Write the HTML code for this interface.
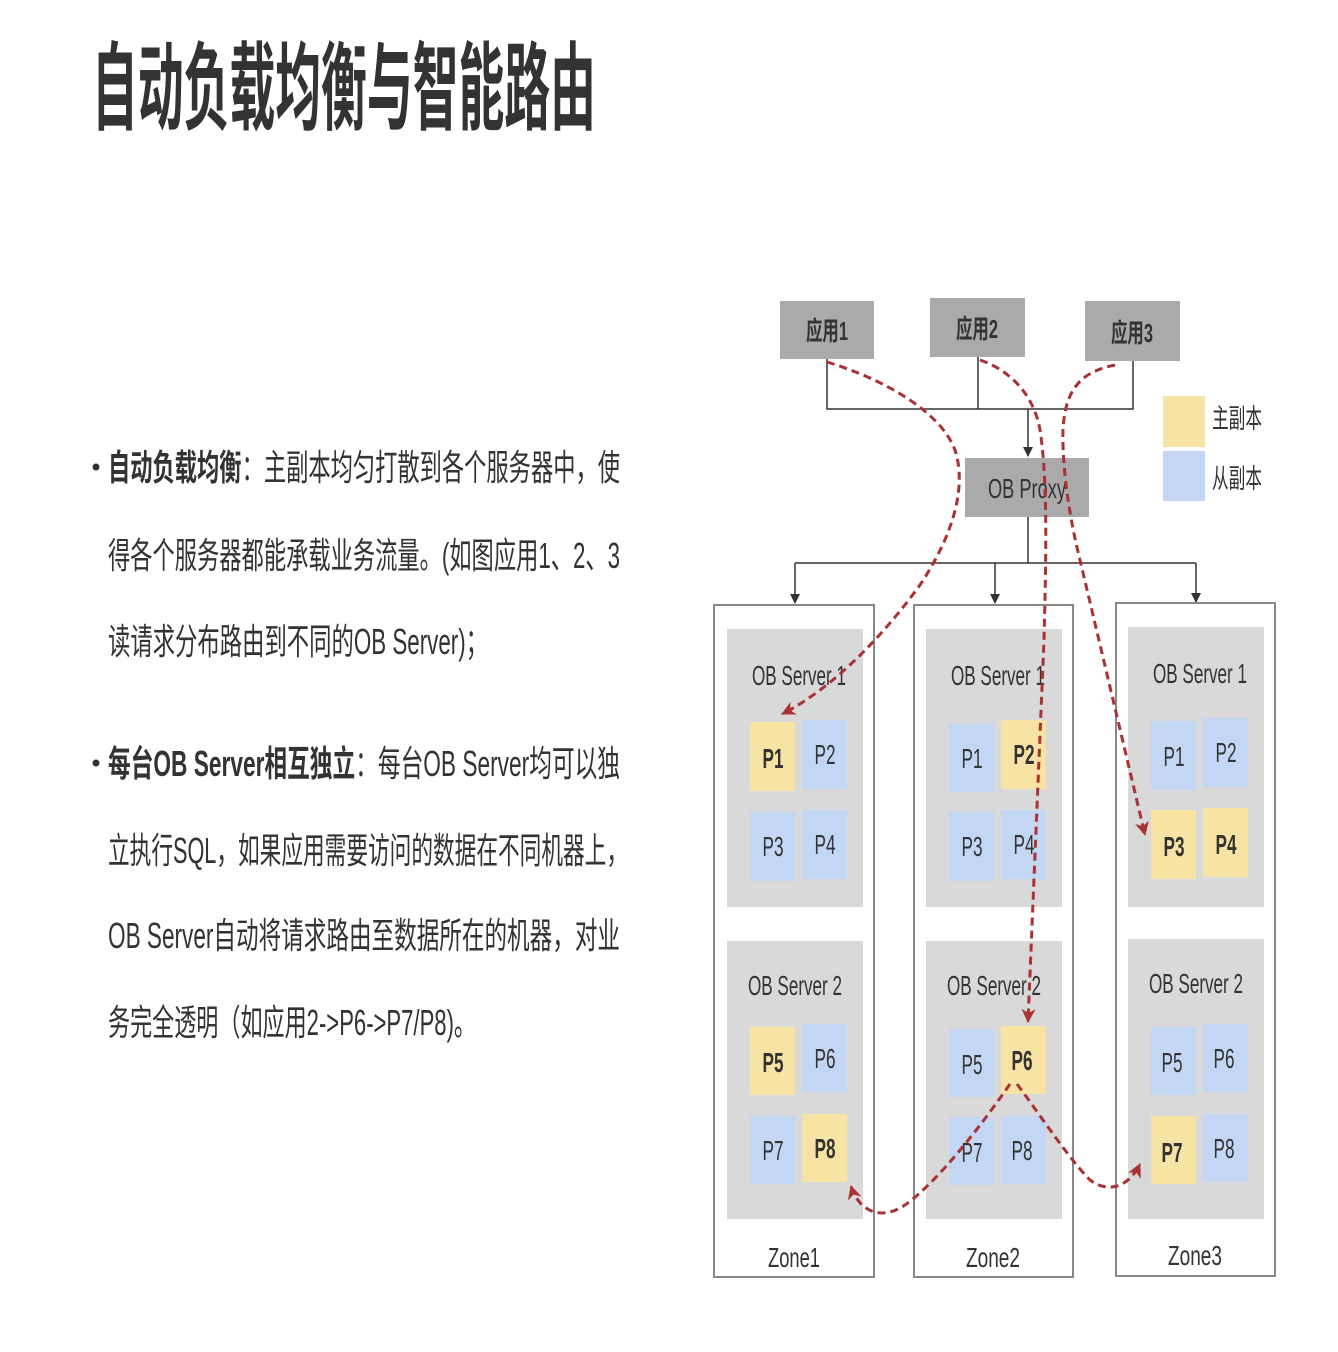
<!DOCTYPE html>
<html><head><meta charset="utf-8">
<style>
html,body{margin:0;padding:0;background:#fff;}
svg{display:block;}
text{font-family:"Liberation Sans","Noto Sans CJK SC",sans-serif;fill:#333;}
</style></head>
<body>
<svg width="1338" height="1352" viewBox="0 0 1338 1352" xmlns="http://www.w3.org/2000/svg">
<defs>
<marker id="ab" markerWidth="10" markerHeight="10" refX="9" refY="5" orient="auto" markerUnits="userSpaceOnUse">
<path d="M0,0 L10,5 L0,10 Z" fill="#333"/></marker>
<marker id="ar" markerWidth="16" markerHeight="16" refX="13" refY="8" orient="auto" markerUnits="userSpaceOnUse">
<path d="M0,1 L14,8 L0,15 L4,8 Z" fill="#a93232"/></marker>
</defs>

<text x="92" y="122" font-size="96" font-weight="bold" fill="#2e2a2a" textLength="504" lengthAdjust="spacingAndGlyphs" style="font-family:'Noto Sans CJK SC',sans-serif">自动负载均衡与智能路由</text>

<g font-size="36" style="font-family:'Noto Sans CJK SC',sans-serif">
<circle cx="96" cy="467" r="3.5" fill="#333"/>
<text x="108" y="480" textLength="512" lengthAdjust="spacingAndGlyphs"><tspan font-weight="bold">自动负载均衡</tspan>：主副本均匀打散到各个服务器中，使</text>
<text x="108" y="568" textLength="512" lengthAdjust="spacingAndGlyphs">得各个服务器都能承载业务流量。(如图应用1、2、3</text>
<text x="108" y="654" textLength="380" lengthAdjust="spacingAndGlyphs">读请求分布路由到不同的OB Server)；</text>
<circle cx="96" cy="763" r="3.5" fill="#333"/>
<text x="108" y="776" textLength="512" lengthAdjust="spacingAndGlyphs"><tspan font-weight="bold">每台OB  Server相互独立</tspan>：每台OB  Server均可以独</text>
<text x="108" y="863" textLength="520" lengthAdjust="spacingAndGlyphs">立执行SQL，如果应用需要访问的数据在不同机器上，</text>
<text x="108" y="948" textLength="512" lengthAdjust="spacingAndGlyphs">OB  Server自动将请求路由至数据所在的机器，对业</text>
<text x="108" y="1035" textLength="368" lengthAdjust="spacingAndGlyphs">务完全透明（如应用2-&gt;P6-&gt;P7/P8)。</text>
</g>

<g fill="#aba9a9">
<rect x="780" y="301" width="94" height="58"/>
<rect x="930" y="298" width="95" height="59"/>
<rect x="1085" y="301" width="95" height="60"/>
<rect x="965" y="458" width="124" height="59"/>
</g>
<g font-size="26" font-weight="bold" text-anchor="middle">
<text x="827" y="340" textLength="42" lengthAdjust="spacingAndGlyphs">应用1</text>
<text x="977" y="338" textLength="42" lengthAdjust="spacingAndGlyphs">应用2</text>
<text x="1132" y="342" textLength="42" lengthAdjust="spacingAndGlyphs">应用3</text>
</g>
<text x="1027" y="498" font-size="28" fill="#2a2a2a" text-anchor="middle" textLength="78" lengthAdjust="spacingAndGlyphs">OB Proxy</text>

<g stroke="#333" stroke-width="1.5" fill="none">
<path d="M827,359 V409 H1133 V361 M978,357 V409"/>
<path d="M1028,409 V456" marker-end="url(#ab)"/>
<path d="M1028,517 V563 M795,563 H1196"/>
<path d="M795,563 V603" marker-end="url(#ab)"/>
<path d="M995,563 V603" marker-end="url(#ab)"/>
<path d="M1196,563 V602" marker-end="url(#ab)"/>
</g>

<rect x="1163" y="396" width="42" height="51" fill="#f7e3a3"/>
<rect x="1163" y="451" width="42" height="50" fill="#c3d6f3"/>
<text x="1212" y="428" font-size="27" fill="#2a2a2a" textLength="50" lengthAdjust="spacingAndGlyphs">主副本</text>
<text x="1212" y="488" font-size="27" fill="#2a2a2a" textLength="50" lengthAdjust="spacingAndGlyphs">从副本</text>

<g fill="#fff" stroke="#888" stroke-width="2">
<rect x="714" y="605" width="160" height="672"/>
<rect x="914" y="605" width="159" height="672"/>
<rect x="1116" y="603" width="159" height="673"/>
</g>
<g fill="#d9d9d9">
<rect x="727" y="629" width="136" height="278"/>
<rect x="727" y="941" width="136" height="278"/>
<rect x="926" y="629" width="136" height="278"/>
<rect x="926" y="941" width="136" height="278"/>
<rect x="1128" y="627" width="136" height="280"/>
<rect x="1128" y="939" width="136" height="280"/>
</g>
<g font-size="28" text-anchor="middle">
<text x="799" y="685" textLength="94" lengthAdjust="spacingAndGlyphs">OB Server 1</text>
<text x="795" y="995" textLength="94" lengthAdjust="spacingAndGlyphs">OB Server 2</text>
<text x="998" y="685" textLength="94" lengthAdjust="spacingAndGlyphs">OB Server 1</text>
<text x="994" y="995" textLength="94" lengthAdjust="spacingAndGlyphs">OB Server 2</text>
<text x="1200" y="683" textLength="94" lengthAdjust="spacingAndGlyphs">OB Server 1</text>
<text x="1196" y="993" textLength="94" lengthAdjust="spacingAndGlyphs">OB Server 2</text>
<text x="794" y="1267" textLength="52" lengthAdjust="spacingAndGlyphs">Zone1</text>
<text x="993" y="1267" textLength="54" lengthAdjust="spacingAndGlyphs">Zone2</text>
<text x="1195" y="1265" textLength="54" lengthAdjust="spacingAndGlyphs">Zone3</text>
</g>

<g>
<rect x="750" y="722" width="45" height="69" fill="#f7e3a3"/><rect x="802" y="720" width="45" height="69" fill="#c3d6f3"/>
<rect x="750" y="812" width="45" height="69" fill="#c3d6f3"/><rect x="802" y="810" width="45" height="69" fill="#c3d6f3"/>
<rect x="750" y="1027" width="45" height="68" fill="#f7e3a3"/><rect x="802" y="1024" width="45" height="68" fill="#c3d6f3"/>
<rect x="750" y="1116" width="45" height="68" fill="#c3d6f3"/><rect x="802" y="1114" width="45" height="68" fill="#f7e3a3"/>

<rect x="949" y="724" width="45" height="68" fill="#c3d6f3"/><rect x="1001" y="720" width="45" height="69" fill="#f7e3a3"/>
<rect x="949" y="812" width="45" height="69" fill="#c3d6f3"/><rect x="1001" y="810" width="45" height="69" fill="#c3d6f3"/>
<rect x="949" y="1029" width="45" height="68" fill="#c3d6f3"/><rect x="1001" y="1026" width="45" height="68" fill="#f7e3a3"/>
<rect x="949" y="1117" width="45" height="68" fill="#c3d6f3"/><rect x="1001" y="1116" width="45" height="68" fill="#c3d6f3"/>

<rect x="1151" y="721" width="45" height="69" fill="#c3d6f3"/><rect x="1203" y="718" width="45" height="69" fill="#c3d6f3"/>
<rect x="1151" y="810" width="45" height="69" fill="#f7e3a3"/><rect x="1203" y="808" width="45" height="69" fill="#f7e3a3"/>
<rect x="1151" y="1027" width="45" height="68" fill="#c3d6f3"/><rect x="1203" y="1024" width="45" height="68" fill="#c3d6f3"/>
<rect x="1151" y="1116" width="45" height="68" fill="#f7e3a3"/><rect x="1203" y="1114" width="45" height="68" fill="#c3d6f3"/>
</g>
<g font-size="28" text-anchor="middle">
<text x="773" y="768" font-weight="bold" textLength="21" lengthAdjust="spacingAndGlyphs">P1</text>
<text x="825" y="764" textLength="21" lengthAdjust="spacingAndGlyphs">P2</text>
<text x="773" y="856" textLength="21" lengthAdjust="spacingAndGlyphs">P3</text>
<text x="825" y="854" textLength="21" lengthAdjust="spacingAndGlyphs">P4</text>
<text x="773" y="1072" font-weight="bold" textLength="21" lengthAdjust="spacingAndGlyphs">P5</text>
<text x="825" y="1068" textLength="21" lengthAdjust="spacingAndGlyphs">P6</text>
<text x="773" y="1160" textLength="21" lengthAdjust="spacingAndGlyphs">P7</text>
<text x="825" y="1158" font-weight="bold" textLength="21" lengthAdjust="spacingAndGlyphs">P8</text>

<text x="972" y="768" textLength="21" lengthAdjust="spacingAndGlyphs">P1</text>
<text x="1024" y="764" font-weight="bold" textLength="21" lengthAdjust="spacingAndGlyphs">P2</text>
<text x="972" y="856" textLength="21" lengthAdjust="spacingAndGlyphs">P3</text>
<text x="1024" y="854" textLength="21" lengthAdjust="spacingAndGlyphs">P4</text>
<text x="972" y="1074" textLength="21" lengthAdjust="spacingAndGlyphs">P5</text>
<text x="1022" y="1070" font-weight="bold" textLength="21" lengthAdjust="spacingAndGlyphs">P6</text>
<text x="972" y="1162" textLength="21" lengthAdjust="spacingAndGlyphs">P7</text>
<text x="1022" y="1160" textLength="21" lengthAdjust="spacingAndGlyphs">P8</text>

<text x="1174" y="766" textLength="21" lengthAdjust="spacingAndGlyphs">P1</text>
<text x="1226" y="762" textLength="21" lengthAdjust="spacingAndGlyphs">P2</text>
<text x="1174" y="856" font-weight="bold" textLength="21" lengthAdjust="spacingAndGlyphs">P3</text>
<text x="1226" y="854" font-weight="bold" textLength="21" lengthAdjust="spacingAndGlyphs">P4</text>
<text x="1172" y="1072" textLength="21" lengthAdjust="spacingAndGlyphs">P5</text>
<text x="1224" y="1068" textLength="21" lengthAdjust="spacingAndGlyphs">P6</text>
<text x="1172" y="1162" font-weight="bold" textLength="21" lengthAdjust="spacingAndGlyphs">P7</text>
<text x="1224" y="1158" textLength="21" lengthAdjust="spacingAndGlyphs">P8</text>
</g>

<g stroke="#a93232" stroke-width="3" fill="none" stroke-dasharray="8,5">
<path d="M827,362 C880,378 940,410 955,450 C968,490 950,540 920,585 C880,640 830,690 782,714" marker-end="url(#ar)"/>
<path d="M980,360 C1015,372 1035,400 1040,430 C1048,480 1046,560 1044,640 L1028,1022" marker-end="url(#ar)"/>
<path d="M1115,365 C1080,372 1065,390 1063,430 C1062,470 1070,520 1080,560 L1145,835" marker-end="url(#ar)"/>
<path d="M1010,1084 C985,1120 940,1180 905,1205 C880,1222 858,1210 851,1186" marker-end="url(#ar)"/>
<path d="M1017,1084 C1040,1115 1070,1160 1090,1180 C1110,1195 1130,1185 1140,1164" marker-end="url(#ar)"/>
</g>
</svg>
</body></html>
